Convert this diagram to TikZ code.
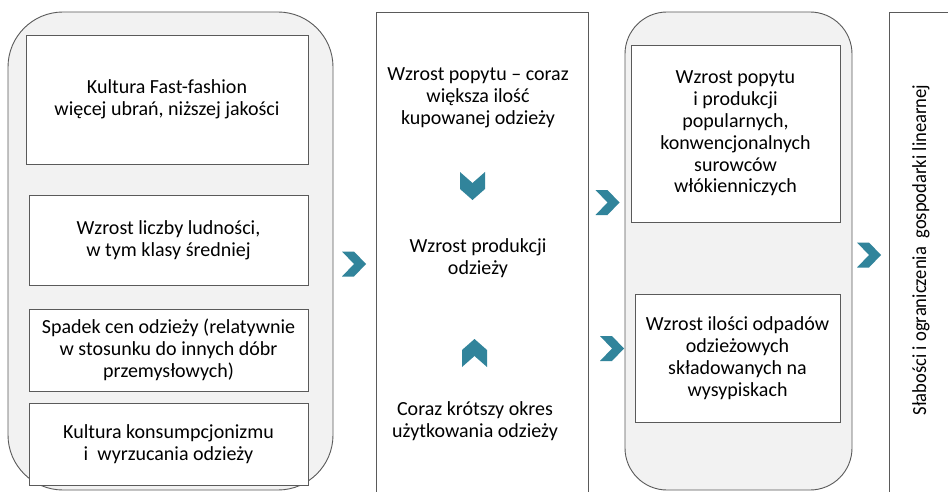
\documentclass[tikz,border=0pt]{standalone}
\usepackage{fontspec}
\setmainfont{Carlito}
\definecolor{bordc}{HTML}{5A5A5A}
\definecolor{panelc}{HTML}{F2F2F2}
\definecolor{chevc}{HTML}{31849B}
\newcommand{\chevright}[2]{\fill[chevc] (#1-12,#2-12.5) -- ++(12,0) -- ++(12,12.5) -- ++(-12,12.5) -- ++(-12,0) -- ++(12,-12.5) -- cycle;}
\newcommand{\chevdown}[2]{\fill[chevc] (#1-12.5,#2-14) -- ++(12.5,11) -- ++(12.5,-11) -- ++(0,17) -- ++(-12.5,11) -- ++(-12.5,-11) -- cycle;}
\newcommand{\chevup}[2]{\fill[chevc] (#1-12.5,#2+14) -- ++(12.5,-11) -- ++(12.5,11) -- ++(0,-17) -- ++(-12.5,-11) -- ++(-12.5,11) -- cycle;}
\begin{document}
\begin{tikzpicture}[x=1pt,y=-1pt,
  outer/.style={draw=bordc, fill=panelc, line width=0.9pt},
  inbox/.style={draw=bordc, fill=white, line width=0.9pt, align=center, font=\fontsize{20}{21.8}\selectfont},
  txt/.style={align=center, font=\fontsize{20}{21.8}\selectfont, text=black}]
\useasboundingbox (0,0) rectangle (948,492);
\clip (0,0) rectangle (948,492);
\fill[white] (0,0) rectangle (948,492);
% left panel
\draw[outer, rounded corners=55pt] (8,12) rectangle (333,490);
\node[inbox, minimum width=282, minimum height=129] (b1) at (167,99.5) {Kultura Fast-fashion\\więcej ubrań, niższej jakości};
\node[inbox, minimum width=279, minimum height=90] (b2) at (168.5,240) {Wzrost liczby ludności,\\ w tym klasy średniej};
\node[inbox, minimum width=279, minimum height=82] (b3) at (168.5,350) {Spadek cen odzieży (relatywnie\\w stosunku do innych dóbr\\przemysłowych)};
\node[inbox, minimum width=279, minimum height=82] (b4) at (168.5,444) {Kultura konsumpcjonizmu\\i\ \ wyrzucania odzieży};
% middle
\draw[inbox] (376,12) rectangle (588,510);
\node[txt] (m1) at (478,97.5) {Wzrost popytu – coraz\\większa ilość\\kupowanej odzieży};
\node[txt] (m2) at (478,258) {Wzrost produkcji\\odzieży};
\node[txt] (m3) at (475,421) {Coraz krótszy okres\\użytkowania odzieży};
% right panel
\draw[outer, rounded corners=42pt] (625,12) rectangle (852,490);
\node[inbox, minimum width=209, minimum height=177] (r1) at (735.5,133.5) {Wzrost popytu\\i produkcji\\popularnych,\\konwencjonalnych\\surowców\\włókienniczych};
\node[inbox, minimum width=205, minimum height=128] (r2) at (737.5,358) {Wzrost ilości odpadów\\odzieżowych\\składowanych na\\wysypiskach};
% far right
\draw[inbox] (889,12) rectangle (980,510);
\node[txt, rotate=90, xscale=0.93] (f1) at (921,250) {Słabości i ograniczenia\ \ gospodarki linearnej};
% chevrons
\chevright{354}{264}
\chevdown{472.5}{186}
\chevup{474.5}{353}
\chevright{607.5}{202.5}
\chevright{612}{348.5}
\chevright{869}{255}
\end{tikzpicture}
\end{document}
